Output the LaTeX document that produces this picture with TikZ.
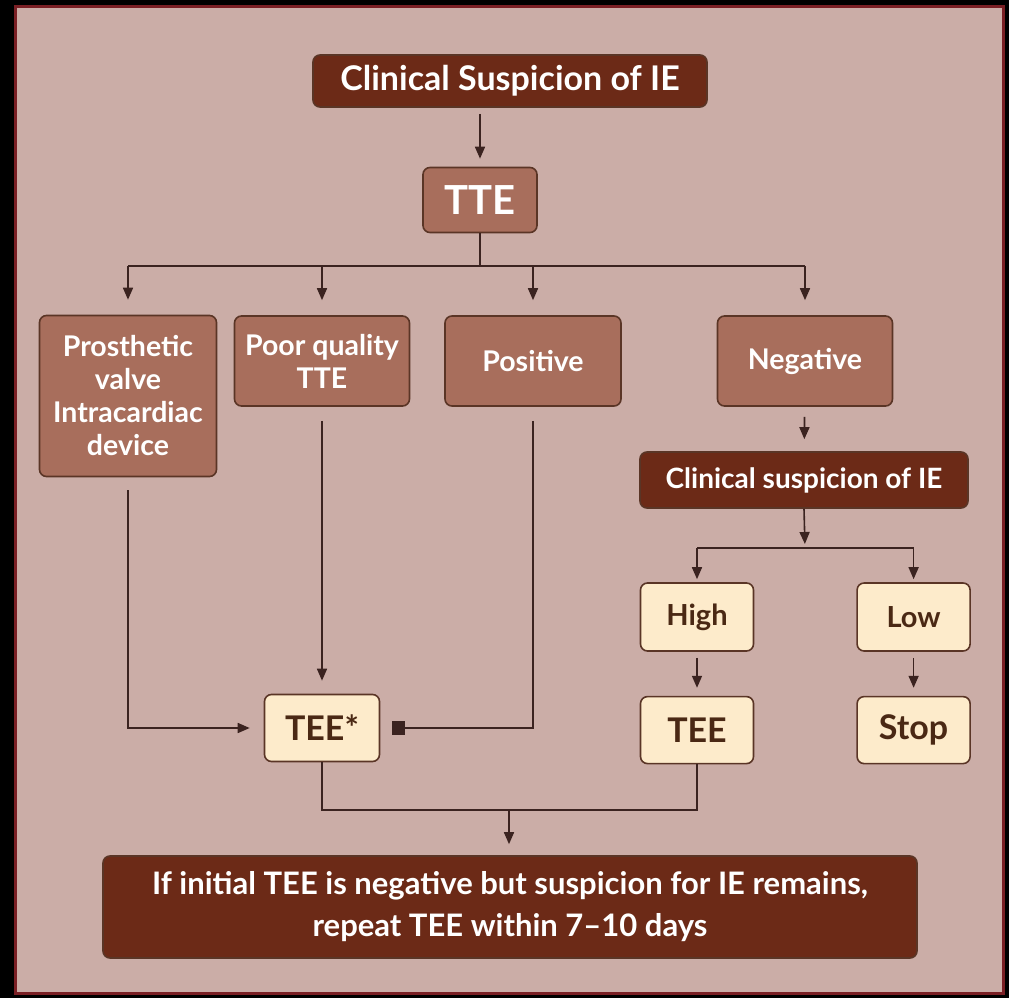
\documentclass[tikz,border=0pt]{standalone}
\usepackage{fontspec}
\setmainfont{Lato}
\usepackage{tikz}
\usetikzlibrary{positioning,arrows.meta}
\definecolor{cframe}{HTML}{7A1F24}
\definecolor{cpanel}{HTML}{CBADA7}
\definecolor{cdark}{HTML}{6C2A17}
\definecolor{cmid}{HTML}{A86E5C}
\definecolor{ccream}{HTML}{FDEBCB}
\definecolor{cedge}{HTML}{5A3526}
\definecolor{cink}{HTML}{3B2320}
\definecolor{ctext}{HTML}{4A2814}

\begin{document}
\begin{tikzpicture}[x=1pt,y=-1pt,
      box/.style={draw=cedge,line width=1.6pt,rounded corners=7pt,align=center,inner sep=0pt},
      dark/.style={box,fill=cdark,text=white},
      mid/.style={box,fill=cmid,text=white,minimum width=175pt,minimum height=90pt,
                  font=\bfseries\fontsize{28.5}{33}\selectfont},
      cream/.style={box,fill=ccream,text=ctext,minimum width=113pt,minimum height=67pt,
                    font=\bfseries\fontsize{34}{40}\selectfont},
      ln/.style={draw=cink,line width=1.6pt},
      ar/.style={ln,-{Triangle[length=12pt,width=10pt]}}]

    % frame
    \fill[black] (0,0) rectangle (1009,998);
    \draw[fill=cpanel,draw=cframe,line width=3pt] (15.5,6.5) rectangle (1003.5,993.5);

    \node[dark,minimum width=394pt,minimum height=52pt,font=\bfseries\fontsize{34}{38}\selectfont] (susp) at (510,81) {Clinical Suspicion of IE};
    \node[box,fill=cmid,text=white,minimum width=114pt,minimum height=65pt,font=\bfseries\fontsize{40}{44}\selectfont] (tte) at (480,200) {TTE};

    \node[mid,minimum width=177pt,minimum height=161pt] (prost) at (128,396) {Prosthetic\\valve\\Intracardiac\\device};
    \node[mid] (poor) at (322,361) {Poor quality\\TTE};
    \node[mid,minimum width=176pt] (pos) at (533,361) {Positive};
    \node[mid] (neg) at (805,361) {Negative};

    \node[dark,minimum width=328pt,minimum height=56pt,font=\bfseries\fontsize{28}{32}\selectfont] (susp2) at (804,480) {Clinical suspicion of IE};
    \node[cream,minimum height=68pt,font=\bfseries\fontsize{29}{34}\selectfont] (high) at (697,617) {High};
    \node[cream,minimum height=68pt,font=\bfseries\fontsize{29}{34}\selectfont,right=102pt of high] (low) {Low};
    \node[cream,below=44pt of high] (teeh) {TEE};
    \node[cream,below=44pt of low] (stop) {Stop};
    \node[cream,minimum width=115pt] (teestar) at (322,728) {TEE*};

    \node[dark,minimum width=814pt,minimum height=102pt,font=\bfseries\fontsize{31}{42}\selectfont] (final) at (510,907) {If initial TEE is negative but suspicion for IE remains,\\repeat TEE within 7--10 days};

    \coordinate (br) at (482,266);
    \coordinate (br2) at (805,548);
    \coordinate (br3) at (509,810);

    \draw[ar,shorten <=6pt,shorten >=8pt] (susp.south -| tte) -- (tte.north);
    \draw[ln] (tte.south) -- (tte.south |- br);
    \draw[ln] (prost.north |- br) -- (neg.north |- br);
    \foreach \n in {prost,poor,pos,neg}
      \draw[ar,shorten >=15pt] (\n.north |- br) -- (\n.north);

    \draw[ar,shorten <=10pt,shorten >=12pt] (neg) -- (susp2);
    \draw[ar,shorten >=4pt] (susp2.south) -- (br2);
    \draw[ln] (high.north |- br2) -- (low.north |- br2);
    \draw[ar,shorten >=3pt] (high.north |- br2) -- (high.north);
    \draw[ar,shorten >=3pt] (low.north |- br2) -- (low.north);
    \draw[ar,shorten <=6pt,shorten >=8pt] (high) -- (teeh);
    \draw[ar,shorten <=6pt,shorten >=8pt] (low) -- (stop);

    \draw[ar,shorten <=13pt,shorten >=14pt] (prost.south) |- (teestar.west);
    \draw[ar,shorten <=14pt,shorten >=13pt] (poor) -- (teestar);
    \draw[ln,-{Square[length=13pt,width=14pt]},shorten <=14pt,shorten >=12pt] (pos.south) |- (teestar.east);

    \draw[ln] (teestar.south) |- (br3) -| (teeh.south);
    \draw[ar,shorten >=11pt] (br3) -- (final.north -| br3);
  \end{tikzpicture}
\end{document}
